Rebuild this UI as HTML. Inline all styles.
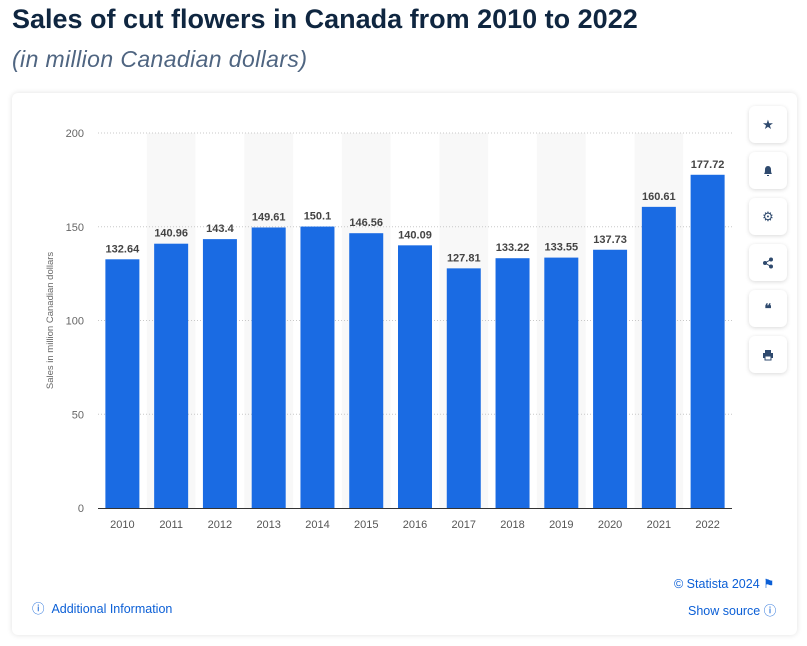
<!DOCTYPE html>
<html><head><meta charset="utf-8"><style>
body{margin:0;width:807px;height:646px;background:#fff;font-family:"Liberation Sans",sans-serif;position:relative;overflow:hidden}
h1{position:absolute;left:12px;top:4px;margin:0;font-size:27px;font-weight:bold;color:#0f2640}
.sub{position:absolute;left:12px;top:46px;font-size:23px;font-style:italic;color:#4f6581;letter-spacing:0.4px}
.card{position:absolute;left:12px;top:93px;width:785px;height:542px;background:#fff;border-radius:6px;box-shadow:0 0 6px rgba(0,0,0,.12)}
.btn{position:absolute;left:749px;width:38px;height:37px;background:#fff;border-radius:6px;box-shadow:0 1px 4px rgba(0,0,0,.15);display:flex;align-items:center;justify-content:center;color:#2f4a6e;font-size:13px}
.link{position:absolute;font-size:12.5px;color:#0b5fd6}
</style></head><body>
<h1>Sales of cut flowers in Canada from 2010 to 2022</h1>
<div class="sub">(in million Canadian dollars)</div>
<div class="card"></div>
<svg id="chart" width="807" height="646" style="position:absolute;left:0;top:0"></svg>
<div class="btn" style="top:106px">★</div>
<div class="btn" style="top:152px"><svg width="12" height="12"><path d="M2 9 Q3 8 3 5 Q3 1 6 1 Q9 1 9 5 Q9 8 10 9 Z M5 10 h2 v1 h-2z" fill="#2f4a6e"/></svg></div>
<div class="btn" style="top:198px">⚙</div>
<div class="btn" style="top:244px"><svg width="12" height="12"><circle cx="9" cy="2.5" r="2" fill="#2f4a6e"/><circle cx="3" cy="6" r="2" fill="#2f4a6e"/><circle cx="9" cy="9.5" r="2" fill="#2f4a6e"/><path d="M9 2.5L3 6L9 9.5" stroke="#2f4a6e" fill="none"/></svg></div>
<div class="btn" style="top:290px;font-weight:bold">❝</div>
<div class="btn" style="top:336px"><svg width="12" height="12"><rect x="3" y="1" width="6" height="3" fill="#2f4a6e"/><rect x="1" y="4" width="10" height="5" fill="#2f4a6e"/><rect x="3" y="7" width="6" height="4" fill="#fff" stroke="#2f4a6e"/></svg></div>
<div class="link" style="left:674px;top:576px">© Statista 2024 ⚑</div>
<div class="link" style="left:688px;top:600px">Show source ⓘ</div>
<div class="link" style="left:32px;top:598px">ⓘ &nbsp;Additional Information</div>
<script>
const categories=["2010","2011","2012","2013","2014","2015","2016","2017","2018","2019","2020","2021","2022"];
const values=[132.64,140.96,143.4,149.61,150.1,146.56,140.09,127.81,133.22,133.55,137.73,160.61,177.72];
const valueLabels=["132.64","140.96","143.4","149.61","150.1","146.56","140.09","127.81","133.22","133.55","137.73","160.61","177.72"];
const yTicks=[0,50,100,150,200];
const svg=document.getElementById('chart');const NS='http://www.w3.org/2000/svg';
const x0=98,x1=732,y0=508,y1=133,ymax=200;
const band=(x1-x0)/categories.length;
const y=v=>y0-(v/ymax)*(y0-y1);
const xc=i=>x0+band*(i+0.5);
function mk(t,a,txt){const e=document.createElementNS(NS,t);for(const k in a)e.setAttribute(k,a[k]);if(txt!=null)e.textContent=txt;svg.appendChild(e);return e;}
categories.forEach((c,i)=>{if(i%2==1){const r=mk('rect',{x:x0+band*i,y:y1,width:band,height:y0-y1,fill:'#f8f8f8'});

}});
yTicks.forEach(t=>{if(t>0){const l=mk('line',{x1:x0,x2:x1,y1:y(t),y2:y(t),stroke:'#c8c8c8','stroke-dasharray':'1,2'});

}
const tx=mk('text',{x:x0-14,y:y(t)+4,'text-anchor':'end','font-size':11,fill:'#666'},String(t));

});
const bw=34;
categories.forEach((c,i)=>{const r=mk('rect',{x:xc(i)-bw/2,y:y(values[i]),width:bw,height:y0-y(values[i]),fill:'#1a6be3'});


const lb=mk('text',{x:xc(i),y:y(values[i])-7,'text-anchor':'middle','font-size':11,'font-weight':'bold',fill:'#444'},valueLabels[i]);


const xl=mk('text',{x:xc(i),y:y0+20,'text-anchor':'middle','font-size':11,fill:'#555'},c);

});
const ax=mk('line',{x1:x0,x2:x1,y1:y0+0.5,y2:y0+0.5,stroke:'#333'});


const yt=mk('text',{x:0,y:0,transform:`translate(53,${(y0+y1)/2}) rotate(-90)`,'text-anchor':'middle','font-size':9.5,fill:'#666'},'Sales in million Canadian dollars');


</script>
</body></html>
